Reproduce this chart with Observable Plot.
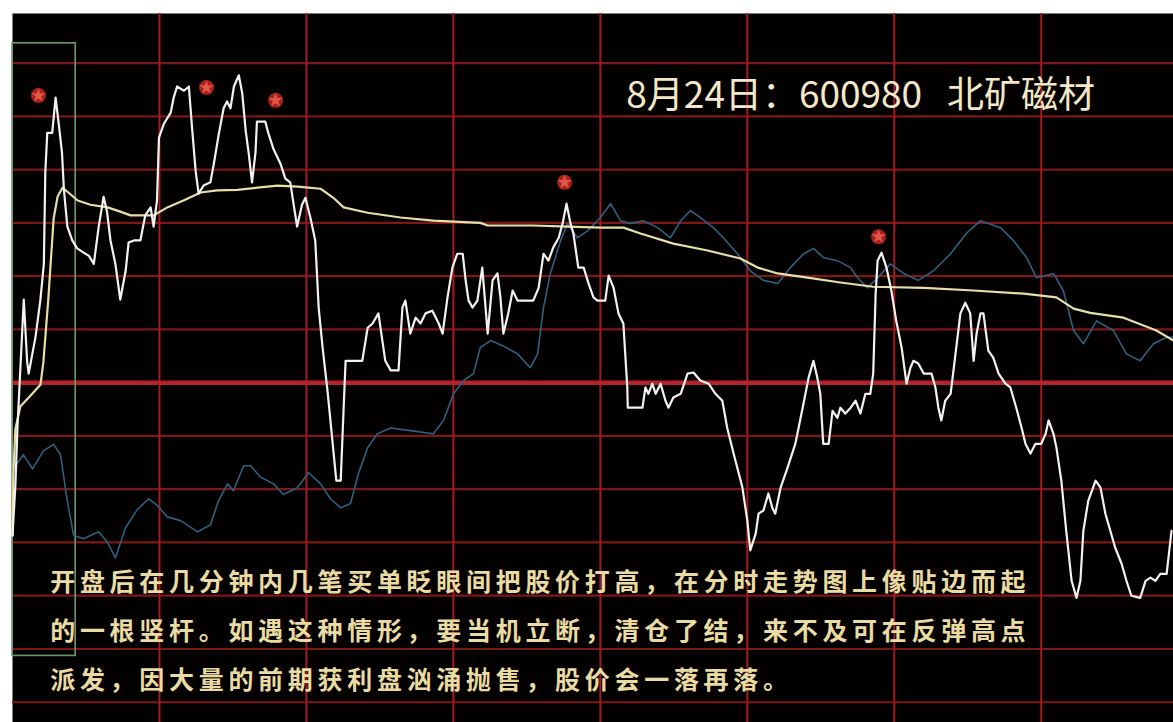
<!DOCTYPE html>
<html>
<head>
<meta charset="utf-8">
<script src="https://cdn.jsdelivr.net/npm/d3@7"></script>
<script src="https://cdn.jsdelivr.net/npm/@observablehq/plot@0.6"></script>
<style>
  html, body { margin: 0; padding: 0; background: #ffffff; }
  #chart svg { display: block; }
</style>
</head>
<body>
<div id="chart"></div>
<script>
// ---- data (minutes since open, % change vs previous close) ----
const priceT = [0,0.6,1.0,2.3,3.0,3.3,4.7,5.7,6.4,6.7,7.1,8.1,8.8,9.5,10.1,10.5,11.2,12.2,13.2,14.2,15.6,16.6,17.6,18.6,19.3,20.0,21.0,22.0,23.1,23.7,24.8,26.1,27.1,28.2,28.8,29.5,29.9,30.9,32.3,32.9,33.6,35.0,36.0,36.7,37.4,38.0,39.0,40.4,41.1,42.1,43.1,43.8,44.5,45.2,46.2,46.9,47.6,48.2,48.9,49.6,49.9,51.6,52.3,53.3,54.7,55.7,56.7,57.4,58.1,59.1,59.8,60.8,61.8,62.5,63.3,64.3,65.3,66.1,67.0,67.6,68.0,71.4,72.5,73.5,74.7,75.5,76.1,77.2,78.8,79.6,80.2,81.2,82.3,83.3,84.3,85.7,87.0,87.8,88.8,89.8,90.8,91.9,92.5,93.1,93.9,94.9,95.9,97.0,98.0,99.0,99.6,100.2,101.2,102.1,103.1,106.3,107.4,108.4,109.4,110.4,111.5,112.3,113.1,113.9,114.5,115.5,116.6,117.6,118.6,119.4,121.0,121.7,122.7,123.7,124.7,125.5,125.6,128.6,129.2,129.8,130.6,131.3,132.3,133.3,133.9,134.9,136.4,137.8,139.0,140.4,142.1,143.5,144.9,145.9,147.2,149.0,150.0,150.6,151.7,152.3,153.3,154.3,155.1,155.7,156.8,158.2,159.8,161.3,162.5,163.5,164.3,164.9,165.5,166.6,167.4,168.4,169.0,170.0,171.1,172.1,173.1,174.1,175.1,175.7,176.2,176.6,177.4,178.4,179.4,180.4,181.5,182.5,183.3,183.9,184.9,186.0,187.6,188.4,189.0,189.6,190.4,191.5,192.5,193.5,194.5,195.5,196.2,196.8,197.6,198.2,199.2,200.2,201.3,202.7,203.7,204.9,206.0,206.8,207.8,208.8,210.0,210.9,211.5,212.5,213.1,214.1,215.1,216.2,217.2,218.0,218.6,219.6,221.1,222.1,223.1,224.1,225.1,226.4,227.4,228.4,230.2,231.3,232.3,233.3,234.3,235.6,236.6];
const priceV = [-2.87,-1.90,-0.86,1.56,0.38,0.17,0.86,1.56,2.23,3.96,4.69,4.69,5.35,4.81,4.32,3.62,2.93,2.67,2.52,2.46,2.38,2.23,2.93,3.49,3.21,2.67,2.23,1.56,2.10,2.63,2.67,2.67,3.14,3.29,2.93,3.42,4.60,4.86,5.07,5.35,5.56,5.48,5.56,4.73,3.96,3.55,3.70,3.76,4.11,4.66,5.15,5.28,5.15,5.56,5.77,5.43,4.73,4.32,3.76,4.32,4.90,4.90,4.66,4.38,4.11,3.83,3.76,3.34,2.93,3.34,3.47,3.10,2.67,1.41,0.66,-0.15,-1.09,-1.84,-1.84,-0.47,0.41,0.41,1.03,1.11,1.30,0.79,0.41,0.23,0.23,1.41,1.54,0.92,1.22,1.11,1.30,1.35,1.11,0.92,1.60,2.16,2.42,2.42,1.92,1.54,1.41,1.54,2.16,0.92,1.92,2.05,1.60,0.92,1.30,1.73,1.54,1.54,1.78,2.42,2.29,2.54,2.72,2.99,3.36,2.99,2.80,2.16,2.16,1.86,1.60,1.54,1.54,2.01,1.78,1.30,1.11,-0.09,-0.47,-0.47,-0.09,-0.21,-0.02,-0.21,-0.02,-0.34,-0.47,-0.28,-0.21,0.17,0.19,0.04,-0.02,-0.21,-0.34,-0.85,-1.33,-1.97,-2.59,-3.15,-2.84,-2.46,-2.40,-2.08,-2.35,-2.46,-1.97,-1.60,-1.15,-0.47,0.09,0.41,0.09,-0.21,-1.15,-1.15,-0.53,-0.66,-0.47,-0.58,-0.47,-0.34,-0.58,-0.21,-0.21,0.17,1.67,2.29,2.44,2.16,1.73,1.16,0.66,-0.02,0.28,0.41,0.36,0.17,0.17,-0.09,-0.47,-0.71,-0.34,-0.21,0.54,1.30,1.50,1.30,0.41,0.92,1.30,1.30,0.60,0.47,0.17,-0.02,-0.09,-0.47,-0.85,-1.15,-1.33,-1.15,-1.15,-0.96,-0.71,-0.96,-1.22,-1.84,-2.78,-3.72,-4.04,-3.72,-2.78,-2.22,-1.84,-1.97,-2.46,-2.78,-3.10,-3.40,-3.72,-4.00,-4.04,-3.72,-3.66,-3.72,-3.59,-3.59,-2.78];

const avgT = [0,0.2,0.6,1.6,3.7,5.7,6.3,7.3,8.4,9.2,10.2,11.4,13.3,15.9,19.4,22.0,24.1,28.8,31.6,34.9,38.4,41.8,45.9,50.0,54.1,58.2,60.4,62.9,65.5,67.6,72.5,79.2,85.9,95.5,97.0,106.3,113.3,120.0,124.7,128.2,134.9,141.9,148.6,152.1,156.2,162.3,169.0,175.7,186.0,196.2,206.4,213.1,216.6,220.0,226.8,233.5,237.0];
const avgV = [-2.87,-1.65,-0.86,-0.45,-0.24,-0.04,0.38,1.56,3.08,3.49,3.66,3.57,3.42,3.34,3.29,3.21,3.14,3.14,3.29,3.42,3.57,3.61,3.62,3.66,3.70,3.68,3.66,3.64,3.47,3.29,3.19,3.10,3.04,3.00,2.95,2.95,2.93,2.91,2.91,2.80,2.61,2.48,2.33,2.16,2.05,1.97,1.88,1.80,1.78,1.73,1.67,1.60,1.39,1.31,1.22,0.98,0.79];

const indexT = [0,2.2,4.1,6.3,8.4,9.8,11.2,12.5,14.5,17.6,19.4,21.0,23.1,25.5,27.8,29.6,31.6,34.3,37.8,40.4,42.0,43.9,45.1,47.2,48.6,50.6,53.3,55.3,58.2,60.4,62.9,64.9,67.0,69.0,70.6,72.5,74.5,77.2,81.2,85.9,88.0,90.0,92.1,94.1,95.5,97.6,100.2,103.1,105.7,107.2,108.4,109.8,111.9,113.3,115.3,117.4,120.0,122.1,124.1,126.1,128.8,131.7,134.3,136.4,138.4,140.4,143.1,145.1,148.0,150.6,153.3,156.2,158.8,161.5,163.5,165.5,168.4,171.1,172.5,174.5,176.6,179.2,181.9,184.9,188.0,191.5,194.7,197.6,201.7,204.3,207.0,209.0,212.5,214.5,216.6,218.6,221.3,224.7,227.4,230.2,232.9,235.6,237.0];
const indexV = [-1.65,-1.35,-1.62,-1.28,-1.16,-1.35,-2.23,-2.87,-2.93,-2.80,-3.00,-3.29,-2.72,-2.38,-2.18,-2.31,-2.52,-2.59,-2.80,-2.67,-2.23,-1.90,-2.03,-1.56,-1.56,-1.77,-1.90,-2.10,-1.97,-1.69,-1.90,-2.18,-2.35,-2.27,-1.71,-1.22,-0.96,-0.85,-0.90,-0.96,-0.71,-0.21,0.04,0.17,0.66,0.79,0.69,0.54,0.28,0.54,1.41,2.05,2.67,2.99,2.72,2.85,3.10,3.36,3.04,2.99,3.04,2.91,2.72,3.04,3.23,3.10,2.91,2.72,2.42,2.10,1.92,1.86,2.16,2.42,2.52,2.35,2.29,2.16,1.97,1.78,1.97,2.23,2.05,1.92,2.10,2.42,2.80,3.04,2.91,2.67,2.35,1.97,2.05,1.73,0.98,0.73,1.16,0.98,0.54,0.41,0.73,0.85,0.85];

const starT = [5.3, 39.6, 53.7, 112.7, 176.8];
const starV = [5.39, 5.54, 5.30, 3.76, 2.74];

const gridY = [-6,-5,-4,-3,-2,-1,1,2,3,4,5,6];
const gridX = [30,60,90,120,150,180,210];
const baseY = [0];

// opening spike box (minutes / %)
const boxT = [0, 12.9];
const boxV = [-5.13, 6.37];

const titleText = "8月24日：600980\u00A0\u00A0\u00A0北矿磁材";
const captionLines = [
  "开盘后在几分钟内几笔买单眨眼间把股价打高，在分时走势图上像贴边而起",
  "的一根竖杆。如遇这种情形，要当机立断，清仓了结，来不及可在反弹高点",
  "派发，因大量的前期获利盘汹涌抛售，股价会一落再落。"
];
const captionV = [-3.77, -4.69, -5.60];

// ---- tables built from the arrays ----
const price = priceT.map((t, i) => ({t, v: priceV[i]}));
const avg = avgT.map((t, i) => ({t, v: avgV[i]}));
const idx = indexT.map((t, i) => ({t, v: indexV[i]}));
const stars = starT.map((t, i) => ({t, v: starV[i]}));
const caption = captionLines.map((text, i) => ({text, v: captionV[i]}));

const FONT = "'Noto Sans CJK SC', 'Noto Sans', sans-serif";

const chart = Plot.plot({
  width: 1173,
  height: 722,
  marginLeft: 12,
  marginTop: 13,
  marginRight: 0,
  marginBottom: 0,
  x: {domain: [0, 237], axis: null},
  y: {domain: [-6.38, 6.93], axis: null},
  style: {background: "#ffffff", fontFamily: FONT, overflow: "hidden"},
  marks: [
    Plot.frame({fill: "#030000", stroke: null}),
    Plot.ruleY(gridY, {stroke: "#7e1717", strokeWidth: 2.2}),
    Plot.ruleX(gridX, {stroke: "#a31b22", strokeWidth: 2}),
    Plot.ruleY(baseY, {stroke: "#b5222c", strokeWidth: 4.5}),
    Plot.rect([0], {x1: boxT[0], x2: boxT[1], y1: boxV[0], y2: boxV[1], fill: null, stroke: "#6f9870", strokeWidth: 1.6}),
    Plot.line(idx, {x: "t", y: "v", stroke: "#2f5f80", strokeWidth: 1.6}),
    Plot.line(avg, {x: "t", y: "v", stroke: "#e6dfa8", strokeWidth: 2.2}),
    Plot.line(price, {x: "t", y: "v", stroke: "#f4f1f1", strokeWidth: 2.2}),
    Plot.dot(stars, {x: "t", y: "v", r: 7.5, fill: "#a82219", stroke: null}),
    Plot.dot(stars, {x: "t", y: "v", r: 4.5, symbol: "star", fill: "#e0564a", stroke: null}),
    Plot.text([titleText], {x: 125.3, y: 5.37, text: d => d, textAnchor: "start", lineAnchor: "middle",
      fontSize: 37, fill: "#f3e9c8", fontFamily: FONT}),
    Plot.text(caption, {x: 7.7, y: "v", text: "text", textAnchor: "start", lineAnchor: "middle",
      fontSize: 25, fontWeight: "bold", fill: "#e9dba2", fontFamily: FONT})
  ]
});

// widen the caption's character spacing as in the reference
chart.querySelectorAll("text").forEach(el => {
  if (captionLines.includes(el.textContent)) el.style.letterSpacing = "4.7px";
});

document.getElementById("chart").appendChild(chart);
</script>
</body>
</html>
